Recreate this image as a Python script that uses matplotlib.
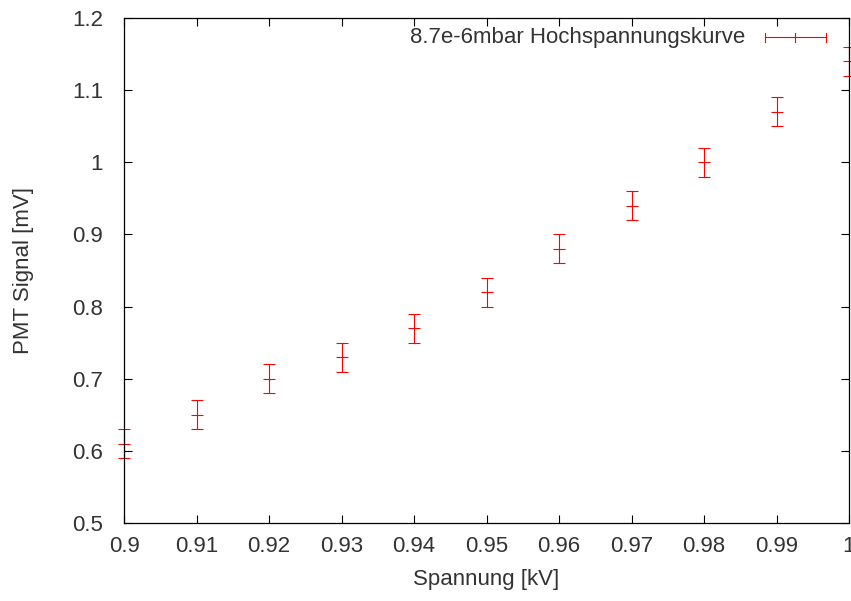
#!/usr/bin/env python

import matplotlib
matplotlib.use("Agg")
import matplotlib.pyplot as plt
import numpy as np

# data
spannung = [0.90, 0.91, 0.92, 0.93, 0.94, 0.95, 0.96, 0.97, 0.98, 0.99, 1.00]
signal = [0.61, 0.65, 0.70, 0.73, 0.77, 0.82, 0.88, 0.94, 1.00, 1.07, 1.14]
fehler = [0.02, 0.02, 0.02, 0.02, 0.02, 0.02, 0.02, 0.02, 0.02, 0.02, 0.02]
label = "8.7e-6mbar Hochspannungskurve"
xticks = [0.90, 0.91, 0.92, 0.93, 0.94, 0.95, 0.96, 0.97, 0.98, 0.99, 1.00]
xticklabels = ["0.9", "0.91", "0.92", "0.93", "0.94", "0.95", "0.96", "0.97", "0.98", "0.99", "1"]
yticks = [0.5, 0.6, 0.7, 0.8, 0.9, 1.0, 1.1, 1.2]
yticklabels = ["0.5", "0.6", "0.7", "0.8", "0.9", "1", "1.1", "1.2"]

RED = "#ff0000"
TXT = "#333333"
FS = 16


def main():
    plt.rcParams['font.family'] = ['Liberation Sans', 'DejaVu Sans']
    fig = plt.figure(figsize=(8.51, 6.01), dpi=100)
    W, H = 851.0, 601.0
    ax = fig.add_axes([124 / W, 1 - 523 / H, (849 - 124) / W, (523 - 18) / H])

    ax.errorbar(spannung, signal, yerr=fehler, fmt='none', ecolor=RED,
                elinewidth=0.8, capsize=4, capthick=0.8, clip_on=False)
    ax.plot(spannung, signal, linestyle='none', marker='_', markersize=8,
            markeredgewidth=0.8, color=RED, clip_on=False)

    ax.set_xlim(0.9, 1.0)
    ax.set_ylim(0.5, 1.2)
    ax.set_xticks(xticks)
    ax.set_xticklabels(xticklabels)
    ax.set_yticks(yticks)
    ax.set_yticklabels(yticklabels)
    ax.tick_params(direction='in', length=6, width=0.8, top=True, right=True,
                   labelsize=FS, labelcolor=TXT, color='black')
    ax.tick_params(axis='x', pad=9)
    ax.tick_params(axis='y', pad=15)
    for s in ax.spines.values():
        s.set_linewidth(0.9)

    ax.set_xlabel("Spannung [kV]", fontsize=FS, color=TXT, va='center')
    ax.xaxis.set_label_coords(0.5, -(580 - 523) / 505.0)
    ax.set_ylabel("PMT Signal [mV]", fontsize=FS, color=TXT, va='center')
    ax.yaxis.set_label_coords(-(124 - 23) / 725.0, 0.5)

    # key in gnuplot style: text then a horizontal bar with caps
    ky = 0.962
    ax.text(0.857, ky, label, transform=ax.transAxes, ha='right', va='center',
            fontsize=FS, color=TXT)
    x0, x1 = 0.884, 0.968
    ax.plot([x0, x1], [ky, ky], color=RED, lw=0.8, transform=ax.transAxes, clip_on=False)
    for xx in (x0, (x0 + x1) / 2, x1):
        ax.plot([xx, xx], [ky - 0.009, ky + 0.009], color=RED, lw=0.8,
                transform=ax.transAxes, clip_on=False)

    fig.savefig("out.png", dpi=100)


if __name__ == "__main__":
    main()
